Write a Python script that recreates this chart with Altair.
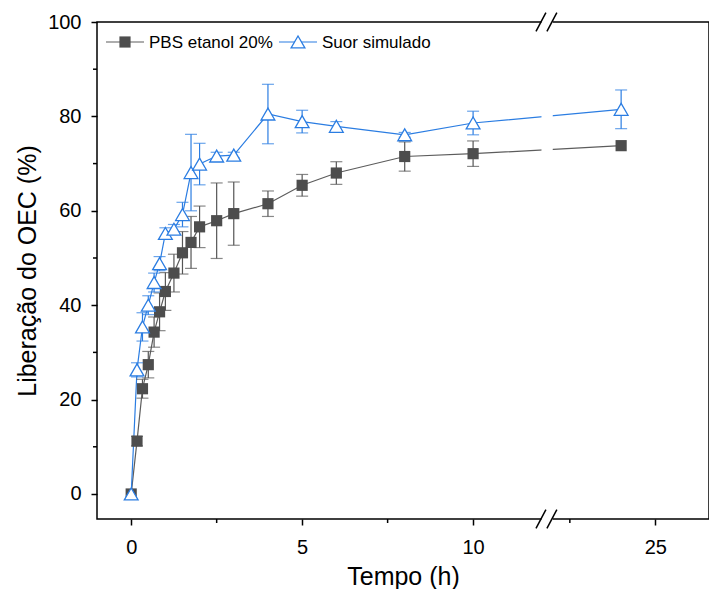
import altair as alt
import pandas as pd

# ---- data ----
time_h = [0, 0.17, 0.33, 0.5, 0.67, 0.83, 1, 1.25, 1.5, 1.75, 2, 2.5, 3, 4, 5, 6, 8, 10, 24]
pbs_mean = [0, 11.2, 22.3, 27.4, 34.3, 38.6, 42.9, 46.8, 51.1, 53.3, 56.6, 57.9, 59.4, 61.5, 65.4, 68.0, 71.5, 72.1, 73.8]
pbs_err = [0, 1.0, 2.0, 2.8, 3.2, 4.0, 4.0, 4.0, 4.5, 5.5, 4.4, 8.0, 6.7, 2.7, 2.3, 2.4, 3.1, 2.7, 0.0]
suor_mean = [0, 26.3, 35.4, 40.0, 44.8, 48.8, 55.2, 56.1, 59.2, 68.1, 69.9, 71.6, 71.8, 80.5, 78.9, 77.9, 76.1, 78.6, 81.5]
suor_err = [0, 1.5, 3.0, 2.0, 2.0, 1.5, 1.2, 1.0, 2.6, 8.1, 4.4, 0.8, 0.6, 6.3, 2.4, 1.0, 0.5, 2.5, 4.1]
series_names = ["PBS etanol 20%", "Suor simulado"]
series_colors = ["#4d4d4d", "#2b7de2"]
line_colors = ["#5c5c5c", "#2b7de2"]

x_major = [0, 5, 10, 25]
x_minor = [2.5, 7.5, 22.5]
y_major = [0, 20, 40, 60, 80, 100]
y_minor = [10, 30, 50, 70, 90]

# broken x axis: values beyond BREAK_AT are shifted left by SHIFT
BREAK_AT = 12.0
SHIFT = 9.67
X_DOMAIN = [-1.0, 16.9]
Y_DOMAIN = [-5.3, 100]
GAP = [12.0, 12.33]                       # white gap (transformed units)
SLASHES = [[11.84, 12.13], [12.16, 12.45]]  # "//" marks (transformed units)

W, H = 612, 497
FONT = "Liberation Sans"


def tx(v):
    return v if v <= BREAK_AT else v - SHIFT


rows = []
for name, means, errs in [(series_names[0], pbs_mean, pbs_err), (series_names[1], suor_mean, suor_err)]:
    for t, m, e in zip(time_h, means, errs):
        rows.append({"serie": name, "t": tx(t), "m": m, "lo": m - e, "hi": m + e})
df = pd.DataFrame(rows)

xscale = alt.Scale(domain=X_DOMAIN, nice=False, zero=False)
yscale = alt.Scale(domain=Y_DOMAIN, nice=False, zero=False)

label_expr = f"datum.value > {BREAK_AT} ? format(round(datum.value + {SHIFT}), 'd') : format(datum.value, 'd')"

xaxis = alt.Axis(values=[tx(v) for v in x_major], labelExpr=label_expr, title="Tempo (h)",
                 tickSize=6, labelPadding=12, titlePadding=7)
yaxis = alt.Axis(values=y_major, title="Liberação do OEC (%)", tickSize=6,
                 labelPadding=10, titlePadding=7)


def X(f):
    return alt.X(f, scale=xscale, axis=xaxis)


def Y(f):
    return alt.Y(f, scale=yscale, axis=yaxis)


layers = []
for i, name in enumerate(series_names):
    d = df[df.serie == name]
    layers.append(alt.Chart(d).mark_line(color=line_colors[i], strokeWidth=1.2).encode(
        x=X("t:Q"), y=Y("m:Q")))

# white gap in the lines and frame
gap_df = pd.DataFrame({"x": [GAP[0]], "x2": [GAP[1]], "y": [Y_DOMAIN[0] - 0.8], "y2": [Y_DOMAIN[1] + 0.8]})
layers.append(alt.Chart(gap_df).mark_rect(color="white").encode(
    x=X("x:Q"), x2="x2:Q", y=Y("y:Q"), y2="y2:Q"))

for i, name in enumerate(series_names):
    d = df[(df.serie == name) & (df.hi > df.lo)]
    c = alt.Chart(d)
    col = series_colors[i] if i == 1 else "#555555"
    layers.append(c.mark_rule(color=col, strokeWidth=1.2).encode(
        x=X("t:Q"), y=Y("lo:Q"), y2="hi:Q"))
    for f in ["lo", "hi"]:
        layers.append(c.mark_tick(color=col, orient="horizontal", size=12, thickness=1.2).encode(
            x=X("t:Q"), y=Y(f + ":Q")))
    dm = df[df.serie == name]
    if i == 0:
        pt = alt.Chart(dm).mark_point(shape="square", filled=True, size=125, opacity=1,
                                      color=series_colors[0])
    else:
        pt = alt.Chart(dm).mark_point(shape="triangle-up", filled=False, fill="white", size=190,
                                      opacity=1, stroke=series_colors[1], strokeWidth=1.3)
    layers.append(pt.encode(x=X("t:Q"), y=Y("m:Q")))

# break slashes on top and bottom frame
sl = []
for a, b in SLASHES:
    sl.append({"x": a, "x2": b, "y": Y_DOMAIN[1] - 2.0, "y2": Y_DOMAIN[1] + 2.0})
    sl.append({"x": a, "x2": b, "y": Y_DOMAIN[0] - 2.0, "y2": Y_DOMAIN[0] + 2.0})
layers.append(alt.Chart(pd.DataFrame(sl)).mark_rule(color="black", strokeWidth=1.5).encode(
    x=X("x:Q"), x2="x2:Q", y=Y("y:Q"), y2="y2:Q"))

# minor ticks
layers.append(alt.Chart(pd.DataFrame({"v": [tx(v) for v in x_minor]})).mark_rule(
    color="black", strokeWidth=1.5).encode(
    x=X("v:Q"), y=alt.value(H), y2=alt.value(H + 4)))
layers.append(alt.Chart(pd.DataFrame({"v": y_minor})).mark_rule(
    color="black", strokeWidth=1.5).encode(
    y=Y("v:Q"), x=alt.value(0), x2=alt.value(-4)))

# legend
LY = 20
leg = alt.Chart(pd.DataFrame({"a": [0]}))
layers.append(leg.mark_rule(color=line_colors[0], strokeWidth=1.2).encode(
    x=alt.value(9), x2=alt.value(47), y=alt.value(LY)))
layers.append(leg.mark_point(shape="square", filled=True, size=125, opacity=1,
                             color=series_colors[0]).encode(x=alt.value(28), y=alt.value(LY)))
layers.append(leg.mark_text(align="left", baseline="middle", font=FONT, fontSize=17,
                            color="black").encode(x=alt.value(52), y=alt.value(LY + 1),
                                                  text=alt.value(series_names[0])))
layers.append(leg.mark_rule(color=line_colors[1], strokeWidth=1.2).encode(
    x=alt.value(182), x2=alt.value(220), y=alt.value(LY)))
layers.append(leg.mark_point(shape="triangle-up", filled=False, fill="white", size=190, opacity=1,
                             stroke=series_colors[1], strokeWidth=1.3).encode(
    x=alt.value(201), y=alt.value(LY)))
layers.append(leg.mark_text(align="left", baseline="middle", font=FONT, fontSize=17,
                            color="black").encode(x=alt.value(225), y=alt.value(LY + 1),
                                                  text=alt.value(series_names[1])))

chart = alt.layer(*layers).properties(
    width=W, height=H,
    autosize=alt.AutoSizeParams(type="none"),
    padding={"left": 89, "top": 14, "right": 0, "bottom": 70},
).configure_view(stroke="black", strokeWidth=1.5).configure_axis(
    domain=False, grid=False, tickColor="black", tickWidth=1.5,
    labelFont=FONT, labelFontSize=20, labelColor="black",
    titleFont=FONT, titleFontSize=25, titleFontWeight="normal", titleColor="black",
)

chart.save("out.html", embed_options={"renderer": "svg", "actions": False})
